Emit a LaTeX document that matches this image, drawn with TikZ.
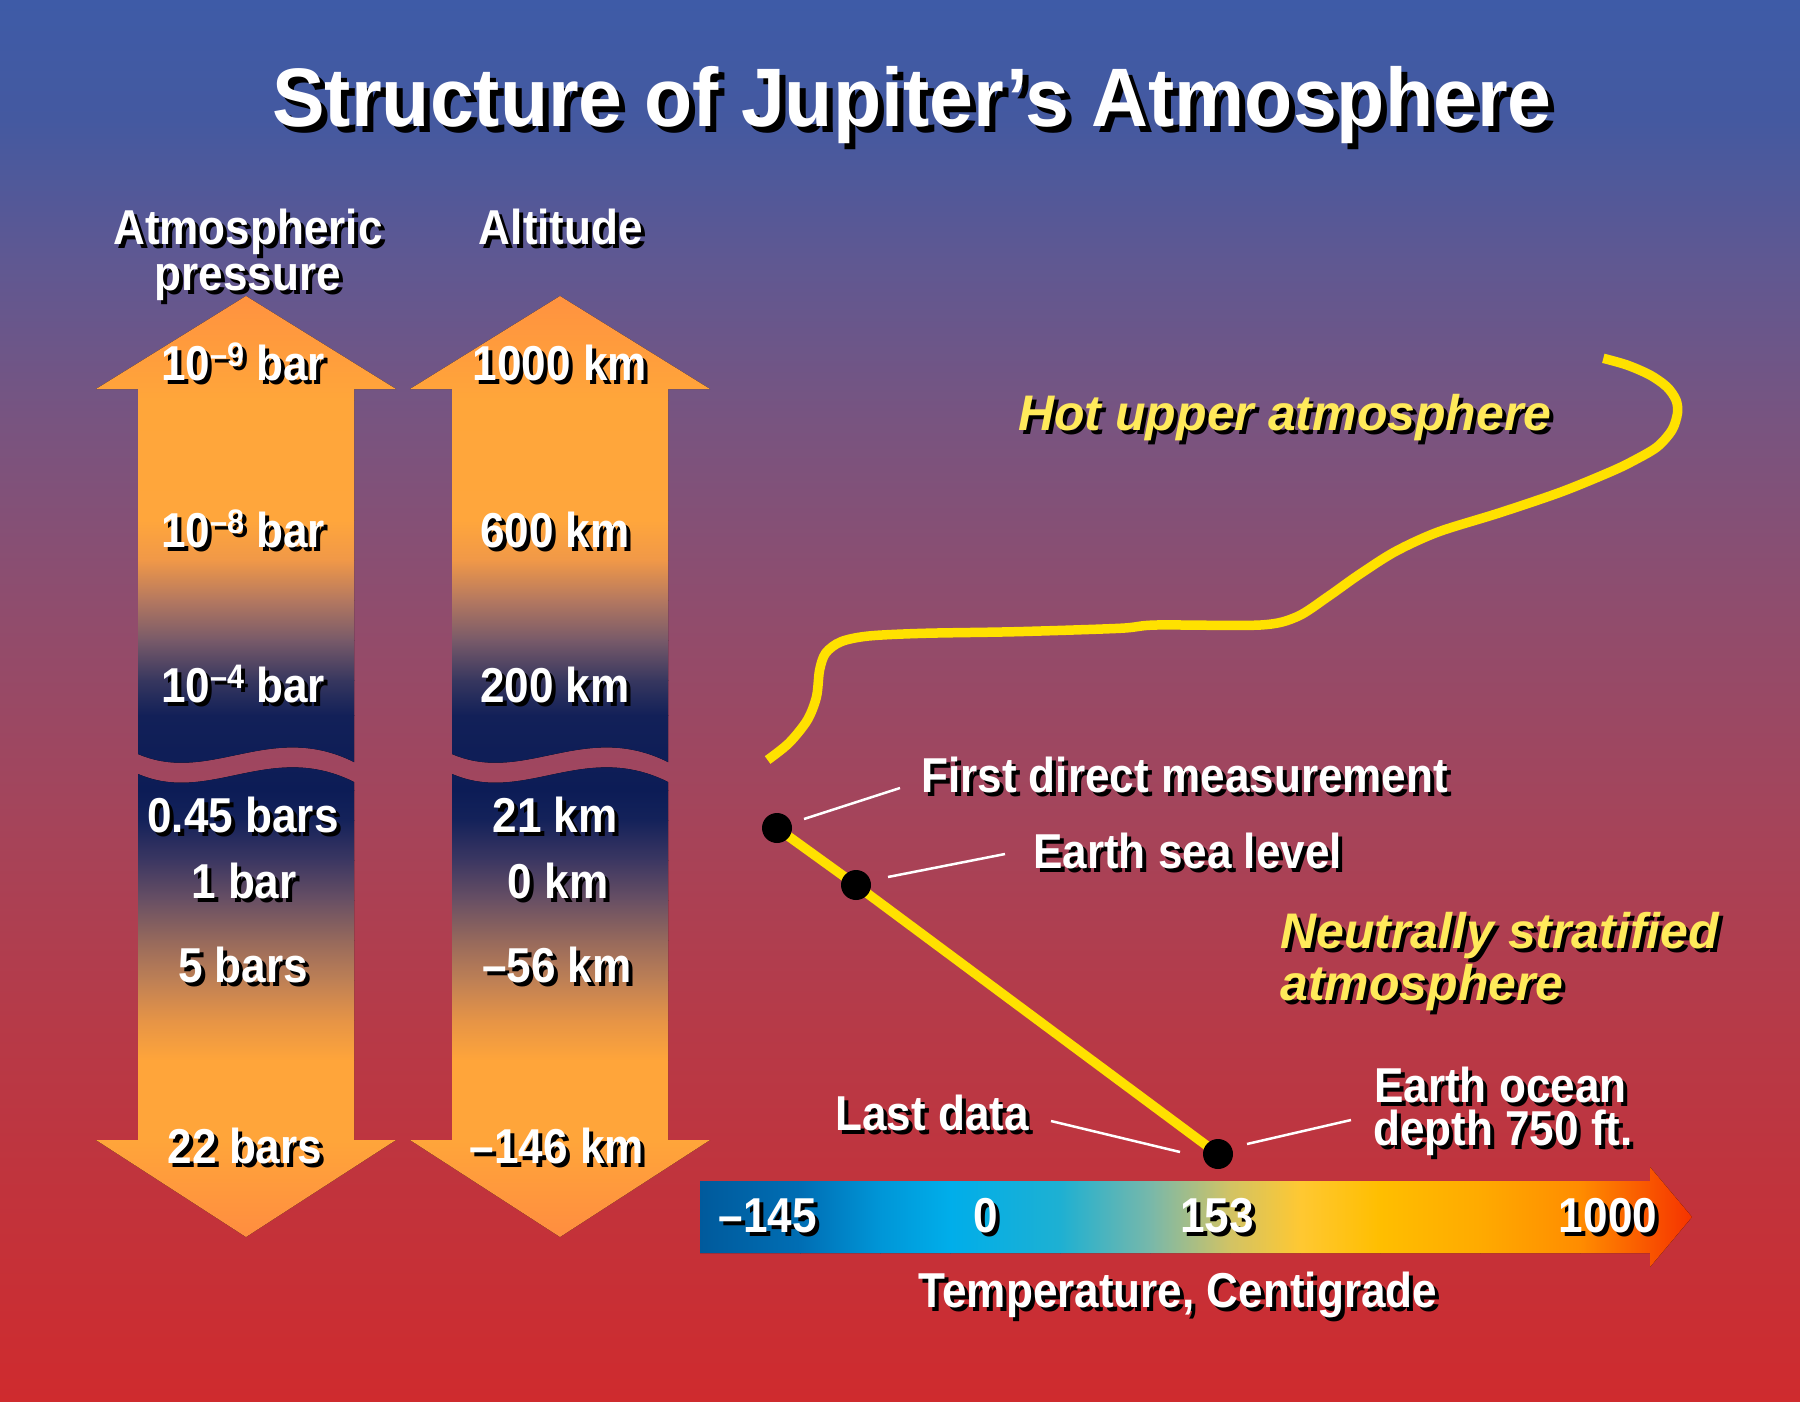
\documentclass[tikz,border=0pt]{standalone}
\usepackage{fontspec}
\newfontfamily\hbfam{Liberation Sans}[FakeStretch=0.9]
\newfontfamily\ttlfam{Liberation Sans}[FakeStretch=0.95]
\newfontfamily\hifam{Liberation Sans}
\usetikzlibrary{calc}

% background stops
\definecolor{bg0}{RGB}{62,91,167}
\definecolor{bg1}{RGB}{68,89,160}
\definecolor{bg2}{RGB}{95,88,146}
\definecolor{bg3}{RGB}{120,84,128}
\definecolor{bg4}{RGB}{145,76,108}
\definecolor{bg5}{RGB}{165,68,90}
\definecolor{bg6}{RGB}{182,58,72}
\definecolor{bg7}{RGB}{195,50,58}
\definecolor{bg8}{RGB}{207,43,46}
% arrow stops
\definecolor{ar0}{RGB}{255,145,64}
\definecolor{ar1}{RGB}{255,166,58}
\definecolor{ar2}{RGB}{255,166,60}
\definecolor{ar3}{RGB}{240,152,72}
\definecolor{ar4}{RGB}{180,120,96}
\definecolor{ar5}{RGB}{120,90,105}
\definecolor{ar6}{RGB}{55,55,95}
\definecolor{ar7}{RGB}{18,32,88}
\definecolor{ar8}{RGB}{12,28,86}
\definecolor{ar9}{RGB}{20,34,90}
\definecolor{ar10}{RGB}{60,55,98}
\definecolor{ar11}{RGB}{105,80,100}
\definecolor{ar12}{RGB}{150,105,92}
\definecolor{ar13}{RGB}{190,128,85}
\definecolor{ar14}{RGB}{230,148,70}
\definecolor{ar15}{RGB}{255,165,58}
\definecolor{ar16}{RGB}{255,140,64}
% temperature bar stops
\definecolor{tb0}{RGB}{0,90,156}
\definecolor{tb1}{RGB}{0,110,180}
\definecolor{tb2}{RGB}{0,150,215}
\definecolor{tb3}{RGB}{0,174,234}
\definecolor{tb4}{RGB}{30,176,210}
\definecolor{tb5}{RGB}{120,184,170}
\definecolor{tb6}{RGB}{210,195,100}
\definecolor{tb7}{RGB}{255,200,50}
\definecolor{tb8}{RGB}{255,190,0}
\definecolor{tb9}{RGB}{255,170,0}
\definecolor{tb10}{RGB}{255,140,0}
\definecolor{tb11}{RGB}{245,50,0}
\definecolor{curveyel}{RGB}{255,225,0}
\definecolor{hotyel}{RGB}{255,234,90}

\tikzset{
  lbl/.style={font=\hbfam\bfseries\fontsize{49}{54}\selectfont, text=white, inner sep=0pt, anchor=base},
  lblw/.style={lbl, anchor=base west},
  ylbl/.style={font=\hifam\bfseries\itshape\fontsize{50}{56}\selectfont, text=hotyel, inner sep=0pt, anchor=base west},
  ttl/.style={font=\ttlfam\bfseries\fontsize{83}{90}\selectfont, text=white, inner sep=0pt, anchor=base},
  leader/.style={draw=white, line width=2.5pt},
  yline/.style={draw=curveyel, line width=9.5pt},
  dot/.style={circle, fill=black, inner sep=0pt, minimum size=30pt},
}

\newcommand\shtext[5][4]{%
  \node[#3, text=black, xshift=#1pt, yshift=-#1pt] at (#4) {#5};
  \node[#3] (#2) at (#4) {#5};}
\newcommand\pexp[1]{\raisebox{14pt}{\fontsize{34}{34}\selectfont\textendash#1}}

\def\upA{(246,296) -- (396,389) -- (354,389) -- (354,762) .. controls (270,720) and (210,785) .. (138,754) -- (138,389) -- (96,389) -- cycle}
\def\loA{(138,774) .. controls (210,805) and (270,740) .. (354,782) -- (354,1140) -- (396,1140) -- (246,1237) -- (96,1140) -- (138,1140) -- cycle}
\newcommand\argrad{%
  \foreach \ya/\yb/\ca/\cb in {290/400/ar0/ar1, 400/520/ar1/ar2, 520/560/ar2/ar3, 560/600/ar3/ar4, 600/640/ar4/ar5, 640/680/ar5/ar6, 680/715/ar6/ar7, 715/790/ar7/ar8, 790/820/ar8/ar9, 820/860/ar9/ar10, 860/900/ar10/ar11, 900/940/ar11/ar12, 940/980/ar12/ar13, 980/1020/ar13/ar14, 1020/1060/ar14/ar15, 1060/1140/ar15/ar15, 1140/1240/ar15/ar16}
    {\fill[top color=\ca, bottom color=\cb] (90,\ya) rectangle (400,\yb+0.6);}}

\begin{document}
\begin{tikzpicture}[x=1pt, y=-1pt]
\useasboundingbox (0,0) rectangle (1800,1401);
% background
\foreach \ya/\yb/\ca/\cb in {0/120/bg0/bg1, 120/260/bg1/bg2, 260/420/bg2/bg3, 420/620/bg3/bg4, 620/820/bg4/bg5, 820/1020/bg5/bg6, 1020/1220/bg6/bg7, 1220/1401/bg7/bg8}
  {\fill[top color=\ca, bottom color=\cb] (0,\ya) rectangle (1800,\yb+0.6);}

% arrows
\foreach \dx in {0,314}{
  \begin{scope}[xshift=\dx pt]
    \begin{scope}\clip \upA; \argrad \end{scope}
    \begin{scope}\clip \loA; \argrad \end{scope}
  \end{scope}
}

% temperature bar
\begin{scope}
  \clip (700,1181) -- (1650,1181) -- (1650,1167) -- (1692,1217) -- (1650,1267) -- (1650,1253) -- (700,1253) -- cycle;
  \foreach \xa/\xb/\ca/\cb in {700/800/tb0/tb1, 800/880/tb1/tb2, 880/950/tb2/tb3, 950/1060/tb3/tb4, 1060/1150/tb4/tb5, 1150/1230/tb5/tb6, 1230/1300/tb6/tb7, 1300/1380/tb7/tb8, 1380/1480/tb8/tb9, 1480/1580/tb9/tb10, 1580/1692/tb10/tb11}
    {\fill[left color=\ca, right color=\cb] (\xa,1160) rectangle (\xb+0.6,1270);}
\end{scope}

% title and headers
\shtext[6]{title}{ttl}{912,126}{Structure of Jupiter’s Atmosphere}
\shtext{hAtm}{lbl}{248,244}{Atmospheric}
\shtext{hPre}{lbl}{248,290}{pressure}
\shtext{hAlt}{lbl}{561,244}{Altitude}

% pressure labels
\shtext{p9}{lbl}{243,380}{10\pexp{9} bar}
\shtext{p8}{lbl}{243,547}{10\pexp{8} bar}
\shtext{p4}{lbl}{243,702}{10\pexp{4} bar}
\shtext{p045}{lbl}{243,832}{0.45 bars}
\shtext{p1}{lbl}{244,898}{1 bar}
\shtext{p5}{lbl}{243,982}{5 bars}
\shtext{p22}{lbl}{245,1163}{22 bars}
% altitude labels
\shtext{a1000}{lbl}{560,380}{1000 km}
\shtext{a600}{lbl}{555,547}{600 km}
\shtext{a200}{lbl}{555,702}{200 km}
\shtext{a21}{lbl}{555,832}{21 km}
\shtext{a0}{lbl}{558,898}{0 km}
\shtext{a56}{lbl}{557,982}{\textendash56 km}
\shtext{a146}{lbl}{557,1163}{\textendash146 km}

% temperature labels
\shtext{t145}{lbl}{768,1232}{\textendash145}
\shtext{t0}{lbl}{986,1232}{0}
\shtext{t153}{lbl}{1217,1232}{153}
\shtext{t1000}{lbl}{1608,1232}{1000}
\shtext{tcap}{lbl}{1178,1307}{Temperature, Centigrade}

% upper atmosphere curve
\draw[yline] plot[smooth, tension=0.5] coordinates {(767.6,760) (789,743) (807.4,720) (816.5,696.7) (819.6,670) (825.7,653) (841,641.7) (868.6,636) (923.7,633.3) (1015.6,631.7) (1119.7,628.3) (1156.4,625) (1260.5,625) (1297,616.7) (1327.9,596.7) (1358.5,575) (1395,551.7) (1438,532) (1499,513) (1561,492) (1610,472) (1633,461) (1657,447) (1672,430) (1677.5,413) (1676,400) (1667,387) (1650,375) (1627,365) (1603.3,358.3)};

% neutral profile
\coordinate (q1) at (777,828);
\coordinate (q2) at (856,885);
\coordinate (q3) at (1218,1154);
\draw[yline] (q1) -- (q2) -- (q3);
\node[dot] (d1) at (q1) {};
\node[dot] (d2) at (q2) {};
\node[dot] (d3) at (q3) {};

% leaders
\coordinate (l1a) at (804,819);  \coordinate (l1b) at (900,788);
\coordinate (l2a) at (888,877);  \coordinate (l2b) at (1005,854);
\coordinate (l3a) at (1051,1121); \coordinate (l3b) at (1180,1152);
\coordinate (l4a) at (1247,1144); \coordinate (l4b) at (1351,1120);
\draw[leader] (l1a) -- (l1b);
\draw[leader] (l2a) -- (l2b);
\draw[leader] (l3a) -- (l3b);
\draw[leader] (l4a) -- (l4b);

% right labels
\shtext{first}{lblw}{921,792}{First direct measurement}
\shtext{sea}{lblw}{1033,868}{Earth sea level}
\shtext{last}{lblw}{835,1130}{Last data}
\shtext{ocean1}{lblw}{1374,1102}{Earth ocean}
\shtext{ocean2}{lblw}{1373,1145}{depth 750 ft.}

\shtext{hot}{ylbl}{1018,430}{Hot upper atmosphere}
\shtext{neut1}{ylbl}{1280,948}{Neutrally stratified}
\shtext{neut2}{ylbl}{1280,1000}{atmosphere}
\end{tikzpicture}
\end{document}
